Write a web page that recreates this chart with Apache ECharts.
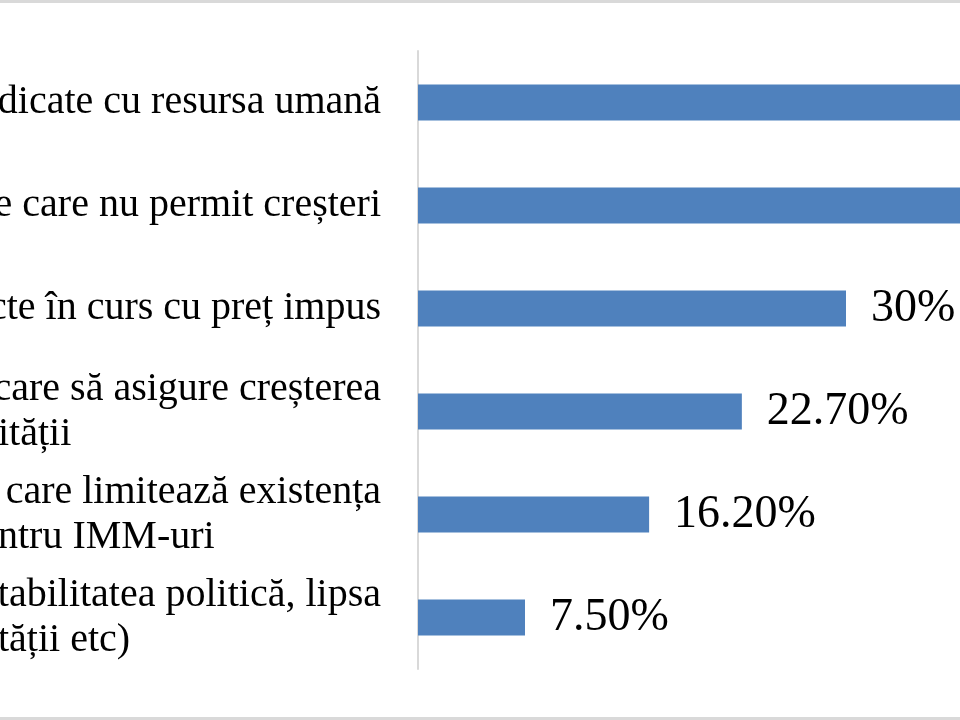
<!DOCTYPE html>
<html>
<head>
<meta charset="utf-8">
<script src="https://cdn.jsdelivr.net/npm/echarts@6/dist/echarts.min.js"></script>
<style>
html,body{margin:0;padding:0;background:#fff;}
#wrap{position:relative;width:960px;height:720px;overflow:hidden;}
#chart{position:absolute;left:0;top:0;width:960px;height:720px;}
.band{position:absolute;left:0;width:960px;height:3px;background:#d9d9d9;}
</style>
</head>
<body>
<div id="wrap">
  <div id="chart"></div>
  <div class="band" style="top:0"></div>
  <div class="band" style="top:717px"></div>
</div>
<script>
// Category labels as visible (first line, second line)
const labelLine1 = [
  'dicate cu resursa umană',
  'e care nu permit creșteri',
  'cte în curs cu preț impus',
  'care să asigure creșterea',
  'care limitează existența',
  'tabilitatea politică, lipsa'
];
const labelLine2 = ['', '', '', 'ității', 'ntru IMM-uri', 'tății etc)'];
const values = [45.9, 40.5, 30, 22.7, 16.2, 7.5];
const valueLabels = ['45.90%', '40.50%', '30%', '22.70%', '16.20%', '7.50%'];

const categories = labelLine1.map((l, i) => l + '|' + labelLine2[i]);

const chart = echarts.init(document.getElementById('chart'), null, {renderer: 'canvas'});
chart.setOption({
  animation: false,
  backgroundColor: '#ffffff',
  grid: {left: 418, right: -314, top: 51, bottom: 51, containLabel: false, outerBoundsMode: 'none'},
  xAxis: {
    type: 'value', min: 0, max: 60, show: false
  },
  yAxis: {
    type: 'category',
    data: categories,
    inverse: true,
    axisLine: {show: true, lineStyle: {color: '#d9d9d9', width: 2}},
    axisTick: {show: false},
    splitLine: {show: false},
    axisLabel: {
      margin: 37,
      width: 383,
      overflow: 'none',
      fontFamily: 'Liberation Serif',
      fontSize: 40,
      color: '#000',
      lineHeight: 45,
      formatter: function (v) {
        const parts = v.split('|');
        return parts[1] ? '{a|' + parts[0] + '}\n{b|' + parts[1] + '}' : '{a|' + parts[0] + '}';
      },
      rich: {
        a: {align: 'right', fontFamily: 'Liberation Serif', fontSize: 40, lineHeight: 45, color: '#000'},
        b: {align: 'left', fontFamily: 'Liberation Serif', fontSize: 40, lineHeight: 45, color: '#000'}
      }
    }
  },
  series: [{
    type: 'bar',
    data: values,
    barWidth: 36,
    itemStyle: {color: '#4F81BD'},
    label: {
      show: true,
      position: 'right',
      distance: 25,
      fontFamily: 'Liberation Serif',
      fontSize: 46,
      color: '#000',
      formatter: p => valueLabels[p.dataIndex]
    }
  }]
});
</script>
</body>
</html>
